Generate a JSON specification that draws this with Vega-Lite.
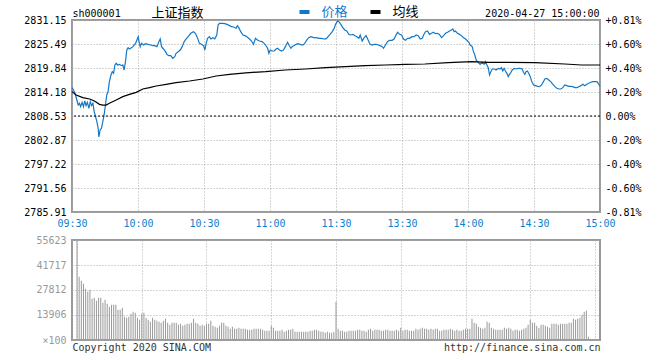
{
  "$schema": "https://vega.github.io/schema/vega-lite/v6.json",
  "background": "#ffffff",
  "padding": {"left": 22, "top": 5, "right": 0, "bottom": 0},
  "autosize": {"type": "pad"},
  "spacing": 28,
  "bounds": "flush",
  "config": {"view": {"stroke": "#999999", "strokeWidth": 2}},
  "datasets": {
    "price": [
      {"m":0,"p":2815.21,"s":"价格"},{"m":0.7,"p":2814.66,"s":"价格"},{"m":1.6,"p":2813.48,"s":"价格"},{"m":2.2,"p":2812.30,"s":"价格"},{"m":2.8,"p":2811.12,"s":"价格"},{"m":3.4,"p":2811.52,"s":"价格"},{"m":3.9,"p":2810.73,"s":"价格"},{"m":4.6,"p":2811.75,"s":"价格"},{"m":5.2,"p":2810.73,"s":"价格"},{"m":5.8,"p":2812.07,"s":"价格"},{"m":6.4,"p":2810.97,"s":"价格"},{"m":7.0,"p":2811.75,"s":"价格"},{"m":7.7,"p":2810.34,"s":"价格"},{"m":8.3,"p":2811.91,"s":"价格"},{"m":8.9,"p":2810.97,"s":"价格"},{"m":9.5,"p":2811.52,"s":"价格"},{"m":10.1,"p":2809.55,"s":"价格"},{"m":10.7,"p":2808.37,"s":"价格"},{"m":11.3,"p":2807.20,"s":"价格"},{"m":11.9,"p":2805.63,"s":"价格"},{"m":12.2,"p":2803.60,"s":"价格"},{"m":12.8,"p":2805.24,"s":"价格"},{"m":13.4,"p":2805.63,"s":"价格"},{"m":14.0,"p":2807.20,"s":"价格"},{"m":14.6,"p":2808.77,"s":"价格"},{"m":15.2,"p":2811.12,"s":"价格"},{"m":15.8,"p":2813.48,"s":"价格"},{"m":16.4,"p":2814.27,"s":"价格"},{"m":17.0,"p":2816.62,"s":"价格"},{"m":17.7,"p":2818.19,"s":"价格"},{"m":18.3,"p":2818.98,"s":"价格"},{"m":18.9,"p":2818.59,"s":"价格"},{"m":19.5,"p":2820.55,"s":"价格"},{"m":20.1,"p":2820.94,"s":"价格"},{"m":20.7,"p":2820.55,"s":"价格"},{"m":21.6,"p":2820.71,"s":"价格"},{"m":22.5,"p":2820.39,"s":"价格"},{"m":23.1,"p":2820.55,"s":"价格"},{"m":23.7,"p":2819.37,"s":"价格"},{"m":24.3,"p":2821.34,"s":"价格"},{"m":24.9,"p":2824.08,"s":"价格"},{"m":25.5,"p":2824.63,"s":"价格"},{"m":26.1,"p":2824.32,"s":"价格"},{"m":27.0,"p":2824.63,"s":"价格"},{"m":27.7,"p":2824.87,"s":"价格"},{"m":28.3,"p":2825.26,"s":"价格"},{"m":28.9,"p":2825.65,"s":"价格"},{"m":29.5,"p":2826.44,"s":"价格"},{"m":30.1,"p":2827.22,"s":"价格"},{"m":30.4,"p":2826.20,"s":"价格"},{"m":31.0,"p":2824.87,"s":"价格"},{"m":31.6,"p":2825.65,"s":"价格"},{"m":32.5,"p":2825.26,"s":"价格"},{"m":33.4,"p":2825.58,"s":"价格"},{"m":34.6,"p":2825.42,"s":"价格"},{"m":35.8,"p":2825.26,"s":"价格"},{"m":36.7,"p":2825.10,"s":"价格"},{"m":37.7,"p":2825.10,"s":"价格"},{"m":38.6,"p":2824.87,"s":"价格"},{"m":39.5,"p":2826.05,"s":"价格"},{"m":40.1,"p":2826.68,"s":"价格"},{"m":40.7,"p":2824.87,"s":"价格"},{"m":41.6,"p":2824.32,"s":"价格"},{"m":42.5,"p":2823.69,"s":"价格"},{"m":43.1,"p":2823.06,"s":"价格"},{"m":44.0,"p":2822.75,"s":"价格"},{"m":44.9,"p":2822.75,"s":"价格"},{"m":45.8,"p":2822.12,"s":"价格"},{"m":46.7,"p":2822.51,"s":"价格"},{"m":47.3,"p":2823.30,"s":"价格"},{"m":48.3,"p":2823.69,"s":"价格"},{"m":49.2,"p":2824.08,"s":"价格"},{"m":50.1,"p":2824.87,"s":"价格"},{"m":51.0,"p":2826.05,"s":"价格"},{"m":51.9,"p":2826.68,"s":"价格"},{"m":52.8,"p":2827.22,"s":"价格"},{"m":54.0,"p":2828.01,"s":"价格"},{"m":55.2,"p":2828.40,"s":"价格"},{"m":56.1,"p":2828.01,"s":"价格"},{"m":57.0,"p":2826.99,"s":"价格"},{"m":57.9,"p":2825.65,"s":"价格"},{"m":58.9,"p":2825.42,"s":"价格"},{"m":59.8,"p":2825.10,"s":"价格"},{"m":60.4,"p":2824.08,"s":"价格"},{"m":61.0,"p":2825.65,"s":"价格"},{"m":61.6,"p":2826.83,"s":"价格"},{"m":62.5,"p":2827.22,"s":"价格"},{"m":63.1,"p":2826.68,"s":"价格"},{"m":64.0,"p":2826.99,"s":"价格"},{"m":64.9,"p":2826.68,"s":"价格"},{"m":65.8,"p":2827.62,"s":"价格"},{"m":66.4,"p":2829.97,"s":"价格"},{"m":67.0,"p":2830.37,"s":"价格"},{"m":68.3,"p":2830.37,"s":"价格"},{"m":69.5,"p":2830.29,"s":"价格"},{"m":70.4,"p":2830.13,"s":"价格"},{"m":71.6,"p":2829.82,"s":"价格"},{"m":72.5,"p":2829.58,"s":"价格"},{"m":73.4,"p":2829.50,"s":"价格"},{"m":74.6,"p":2829.19,"s":"价格"},{"m":75.2,"p":2829.82,"s":"价格"},{"m":75.8,"p":2829.35,"s":"价格"},{"m":76.7,"p":2828.40,"s":"价格"},{"m":77.7,"p":2827.62,"s":"价格"},{"m":78.6,"p":2827.46,"s":"价格"},{"m":79.5,"p":2827.22,"s":"价格"},
      {"m":80.7,"p":2826.68,"s":"价格"},{"m":81.6,"p":2826.20,"s":"价格"},{"m":82.5,"p":2825.42,"s":"价格"},{"m":83.4,"p":2826.83,"s":"价格"},{"m":84.3,"p":2826.44,"s":"价格"},{"m":85.2,"p":2826.20,"s":"价格"},{"m":86.4,"p":2826.05,"s":"价格"},{"m":87.3,"p":2825.65,"s":"价格"},{"m":88.0,"p":2825.26,"s":"价格"},{"m":88.9,"p":2824.48,"s":"价格"},{"m":89.5,"p":2823.30,"s":"价格"},{"m":90.1,"p":2824.08,"s":"价格"},{"m":91.0,"p":2823.85,"s":"价格"},{"m":91.9,"p":2823.85,"s":"价格"},{"m":92.8,"p":2824.32,"s":"价格"},{"m":93.4,"p":2824.48,"s":"价格"},{"m":94.3,"p":2824.08,"s":"价格"},{"m":95.2,"p":2823.85,"s":"价格"},{"m":96.1,"p":2824.08,"s":"价格"},{"m":97.0,"p":2824.87,"s":"价格"},{"m":98.0,"p":2825.89,"s":"价格"},{"m":98.6,"p":2825.26,"s":"价格"},{"m":99.5,"p":2824.48,"s":"价格"},{"m":100.1,"p":2824.87,"s":"价格"},{"m":101.3,"p":2825.26,"s":"价格"},{"m":102.5,"p":2825.58,"s":"价格"},{"m":103.7,"p":2825.42,"s":"价格"},{"m":104.9,"p":2825.26,"s":"价格"},{"m":105.8,"p":2825.65,"s":"价格"},{"m":106.7,"p":2826.44,"s":"价格"},{"m":107.6,"p":2826.99,"s":"价格"},{"m":108.6,"p":2827.22,"s":"价格"},{"m":109.8,"p":2826.99,"s":"价格"},{"m":111.0,"p":2826.99,"s":"价格"},{"m":112.2,"p":2826.83,"s":"价格"},{"m":113.4,"p":2826.83,"s":"价格"},{"m":114.6,"p":2826.68,"s":"价格"},{"m":115.5,"p":2826.68,"s":"价格"},{"m":116.4,"p":2827.22,"s":"价格"},{"m":117.3,"p":2827.77,"s":"价格"},{"m":118.3,"p":2828.40,"s":"价格"},{"m":119.2,"p":2829.19,"s":"价格"},{"m":119.8,"p":2830.13,"s":"价格"},{"m":120.7,"p":2830.92,"s":"价格"},{"m":121.3,"p":2830.76,"s":"价格"},{"m":122.2,"p":2830.13,"s":"价格"},{"m":123.1,"p":2829.35,"s":"价格"},{"m":124.0,"p":2828.80,"s":"价格"},{"m":124.9,"p":2828.56,"s":"价格"},{"m":125.8,"p":2827.77,"s":"价格"},{"m":126.7,"p":2827.62,"s":"价格"},{"m":127.7,"p":2827.77,"s":"价格"},{"m":128.6,"p":2827.46,"s":"价格"},{"m":129.5,"p":2827.22,"s":"价格"},{"m":130.4,"p":2826.83,"s":"价格"},{"m":131.0,"p":2827.62,"s":"价格"},{"m":131.9,"p":2826.20,"s":"价格"},{"m":132.8,"p":2826.99,"s":"价格"},{"m":133.7,"p":2827.46,"s":"价格"},{"m":134.6,"p":2826.44,"s":"价格"},{"m":135.5,"p":2825.42,"s":"价格"},{"m":136.4,"p":2825.26,"s":"价格"},{"m":137.3,"p":2825.42,"s":"价格"},{"m":138.3,"p":2825.42,"s":"价格"},{"m":139.2,"p":2825.26,"s":"价格"},{"m":140.1,"p":2825.10,"s":"价格"},{"m":141.0,"p":2824.87,"s":"价格"},{"m":141.6,"p":2824.48,"s":"价格"},{"m":142.5,"p":2825.26,"s":"价格"},{"m":143.4,"p":2826.05,"s":"价格"},{"m":144.3,"p":2826.36,"s":"价格"},{"m":145.5,"p":2826.36,"s":"价格"},{"m":146.4,"p":2826.68,"s":"价格"},{"m":147.3,"p":2827.62,"s":"价格"},{"m":148.0,"p":2828.25,"s":"价格"},{"m":148.9,"p":2827.77,"s":"价格"},{"m":149.8,"p":2827.62,"s":"价格"},{"m":150.7,"p":2826.68,"s":"价格"},{"m":151.6,"p":2826.36,"s":"价格"},{"m":152.5,"p":2826.83,"s":"价格"},{"m":153.4,"p":2826.83,"s":"价格"},{"m":154.6,"p":2827.22,"s":"价格"},{"m":155.5,"p":2827.22,"s":"价格"},{"m":156.4,"p":2827.62,"s":"价格"},{"m":157.4,"p":2827.46,"s":"价格"},{"m":158.3,"p":2826.68,"s":"价格"},{"m":159.2,"p":2826.83,"s":"价格"},{"m":160.0,"p":2827.80,"s":"价格"},
      {"m":160.7,"p":2828.40,"s":"价格"},{"m":161.6,"p":2828.56,"s":"价格"},{"m":162.5,"p":2827.77,"s":"价格"},{"m":163.4,"p":2828.01,"s":"价格"},{"m":164.3,"p":2828.25,"s":"价格"},{"m":165.2,"p":2827.93,"s":"价格"},{"m":166.1,"p":2828.01,"s":"价格"},{"m":167.0,"p":2827.77,"s":"价格"},{"m":168.0,"p":2826.99,"s":"价格"},{"m":168.9,"p":2827.46,"s":"价格"},{"m":169.8,"p":2828.01,"s":"价格"},{"m":170.7,"p":2828.25,"s":"价格"},{"m":171.6,"p":2828.56,"s":"价格"},{"m":172.5,"p":2828.80,"s":"价格"},{"m":173.1,"p":2829.03,"s":"价格"},{"m":173.7,"p":2828.40,"s":"价格"},{"m":174.3,"p":2828.56,"s":"价格"},{"m":175.2,"p":2828.01,"s":"价格"},{"m":176.1,"p":2827.77,"s":"价格"},{"m":177.0,"p":2827.46,"s":"价格"},{"m":178.0,"p":2826.99,"s":"价格"},{"m":178.9,"p":2826.68,"s":"价格"},{"m":179.8,"p":2826.20,"s":"价格"},{"m":180.4,"p":2825.89,"s":"价格"},{"m":181.0,"p":2825.26,"s":"价格"},{"m":181.9,"p":2824.87,"s":"价格"},{"m":182.5,"p":2823.69,"s":"价格"},{"m":183.1,"p":2822.90,"s":"价格"},{"m":183.7,"p":2821.73,"s":"价格"},{"m":184.6,"p":2821.18,"s":"价格"},{"m":185.5,"p":2820.71,"s":"价格"},{"m":186.4,"p":2821.18,"s":"价格"},{"m":187.3,"p":2820.71,"s":"价格"},{"m":187.9,"p":2821.34,"s":"价格"},{"m":188.6,"p":2820.55,"s":"价格"},{"m":189.2,"p":2819.92,"s":"价格"},{"m":189.8,"p":2818.19,"s":"价格"},{"m":190.4,"p":2818.98,"s":"价格"},{"m":191.0,"p":2819.61,"s":"价格"},{"m":191.9,"p":2819.61,"s":"价格"},{"m":192.8,"p":2819.37,"s":"价格"},{"m":193.7,"p":2819.76,"s":"价格"},{"m":194.6,"p":2819.61,"s":"价格"},{"m":195.2,"p":2819.92,"s":"价格"},{"m":195.8,"p":2819.14,"s":"价格"},{"m":196.4,"p":2819.76,"s":"价格"},{"m":197.0,"p":2819.14,"s":"价格"},{"m":197.7,"p":2818.59,"s":"价格"},{"m":198.3,"p":2817.80,"s":"价格"},{"m":198.9,"p":2818.35,"s":"价格"},{"m":199.5,"p":2818.82,"s":"价格"},{"m":200.1,"p":2819.37,"s":"价格"},{"m":201.0,"p":2819.76,"s":"价格"},{"m":201.9,"p":2819.61,"s":"价格"},{"m":202.8,"p":2819.76,"s":"价格"},{"m":203.7,"p":2819.76,"s":"价格"},{"m":204.6,"p":2819.61,"s":"价格"},{"m":205.2,"p":2818.82,"s":"价格"},{"m":205.8,"p":2818.35,"s":"价格"},{"m":206.4,"p":2818.98,"s":"价格"},{"m":207.0,"p":2819.14,"s":"价格"},{"m":207.6,"p":2818.59,"s":"价格"},{"m":208.3,"p":2817.80,"s":"价格"},{"m":208.9,"p":2816.78,"s":"价格"},{"m":209.8,"p":2815.84,"s":"价格"},{"m":210.7,"p":2815.68,"s":"价格"},{"m":211.6,"p":2815.52,"s":"价格"},{"m":212.5,"p":2815.44,"s":"价格"},{"m":213.4,"p":2815.84,"s":"价格"},{"m":214.3,"p":2816.62,"s":"价格"},{"m":214.9,"p":2817.25,"s":"价格"},{"m":215.8,"p":2817.41,"s":"价格"},{"m":216.7,"p":2817.02,"s":"价格"},{"m":217.6,"p":2816.62,"s":"价格"},{"m":218.6,"p":2816.00,"s":"价格"},{"m":219.5,"p":2815.44,"s":"价格"},{"m":220.4,"p":2815.05,"s":"价格"},{"m":221.3,"p":2814.89,"s":"价格"},{"m":222.2,"p":2814.89,"s":"价格"},{"m":223.1,"p":2815.21,"s":"价格"},{"m":224.0,"p":2815.84,"s":"价格"},{"m":224.9,"p":2815.68,"s":"价格"},{"m":225.8,"p":2815.52,"s":"价格"},{"m":226.7,"p":2815.52,"s":"价格"},{"m":227.6,"p":2815.44,"s":"价格"},{"m":228.6,"p":2815.21,"s":"价格"},{"m":229.5,"p":2815.21,"s":"价格"},{"m":230.4,"p":2815.44,"s":"价格"},{"m":231.3,"p":2815.68,"s":"价格"},{"m":232.2,"p":2816.00,"s":"价格"},{"m":233.1,"p":2815.68,"s":"价格"},{"m":234.0,"p":2816.00,"s":"价格"},{"m":234.9,"p":2816.23,"s":"价格"},{"m":235.8,"p":2816.47,"s":"价格"},{"m":236.7,"p":2816.62,"s":"价格"},{"m":237.6,"p":2816.62,"s":"价格"},{"m":238.6,"p":2816.62,"s":"价格"},{"m":239.2,"p":2816.23,"s":"价格"},{"m":240,"p":2815.49,"s":"价格"},
      {"m":0,"p":2814.27,"s":"均线"},{"m":1.9,"p":2813.48,"s":"均线"},{"m":4.9,"p":2812.85,"s":"均线"},{"m":8.0,"p":2812.54,"s":"均线"},{"m":10.2,"p":2812.07,"s":"均线"},{"m":12.5,"p":2811.28,"s":"均线"},{"m":14.0,"p":2811.08,"s":"均线"},{"m":15.5,"p":2811.10,"s":"均线"},{"m":17.0,"p":2811.52,"s":"均线"},{"m":20.1,"p":2812.30,"s":"均线"},{"m":23.1,"p":2813.09,"s":"均线"},{"m":26.1,"p":2813.64,"s":"均线"},{"m":29.2,"p":2814.11,"s":"均线"},{"m":32.2,"p":2814.89,"s":"均线"},{"m":35.2,"p":2815.21,"s":"均线"},{"m":38.3,"p":2815.60,"s":"均线"},{"m":42.8,"p":2816.00,"s":"均线"},{"m":47.3,"p":2816.39,"s":"均线"},{"m":53.4,"p":2816.78,"s":"均线"},{"m":59.5,"p":2817.25,"s":"均线"},{"m":65.5,"p":2817.96,"s":"均线"},{"m":71.6,"p":2818.35,"s":"均线"},{"m":79.0,"p":2818.70,"s":"均线"},{"m":88.0,"p":2818.98,"s":"均线"},{"m":97.0,"p":2819.37,"s":"均线"},{"m":106.1,"p":2819.61,"s":"均线"},{"m":115.2,"p":2819.92,"s":"均线"},{"m":124.3,"p":2820.16,"s":"均线"},{"m":133.4,"p":2820.39,"s":"均线"},{"m":142.5,"p":2820.55,"s":"均线"},{"m":151.6,"p":2820.71,"s":"均线"},{"m":160.4,"p":2820.78,"s":"均线"},{"m":171.0,"p":2821.10,"s":"均线"},{"m":181.6,"p":2821.34,"s":"均线"},{"m":189.2,"p":2821.18,"s":"均线"},{"m":210.4,"p":2821.10,"s":"均线"},{"m":224.0,"p":2820.78,"s":"均线"},{"m":231.6,"p":2820.55,"s":"均线"},{"m":240,"p":2820.55,"s":"均线"}
    ],
    "vol": [
      {"m":0,"v":55623},
      {"m":1,"v":35226},{"m":2,"v":33000},{"m":3,"v":31333},{"m":4,"v":28552},{"m":5,"v":26883},{"m":6,"v":28000},{"m":7,"v":22990},{"m":8,"v":23546},{"m":9,"v":21877},{"m":10,"v":23546},
      {"m":11,"v":23546},{"m":12,"v":20765},{"m":13,"v":22433},{"m":14,"v":20209},{"m":15,"v":18540},{"m":16,"v":19652},{"m":17,"v":19652},{"m":18,"v":19652},{"m":19,"v":16871},{"m":20,"v":16871},
      {"m":21,"v":17984},{"m":22,"v":12978},{"m":23,"v":12422},{"m":24,"v":12978},{"m":25,"v":14647},{"m":26,"v":15759},{"m":27,"v":15203},{"m":28,"v":12422},{"m":29,"v":11309},{"m":30,"v":14647},
      {"m":31,"v":15203},{"m":32,"v":12422},{"m":33,"v":11309},{"m":34,"v":10197},{"m":35,"v":12422},{"m":36,"v":11309},{"m":37,"v":10753},{"m":38,"v":10197},{"m":39,"v":9641},{"m":40,"v":10753},
      {"m":41,"v":11866},{"m":42,"v":9641},{"m":43,"v":8528},{"m":44,"v":9641},{"m":45,"v":9641},{"m":46,"v":9641},{"m":47,"v":8528},{"m":48,"v":9085},{"m":49,"v":7972},{"m":50,"v":8528},
      {"m":51,"v":9085},{"m":52,"v":9085},{"m":53,"v":9641},{"m":54,"v":11866},{"m":55,"v":9641},{"m":56,"v":9085},{"m":57,"v":7972},{"m":58,"v":8528},{"m":59,"v":7972},{"m":60,"v":9085},
      {"m":61,"v":9085},{"m":62,"v":10753},{"m":63,"v":7972},{"m":64,"v":7416},{"m":65,"v":6860},{"m":66,"v":7972},{"m":67,"v":9641},{"m":68,"v":9641},{"m":69,"v":7972},{"m":70,"v":7416},
      {"m":71,"v":6304},{"m":72,"v":7416},{"m":73,"v":6304},{"m":74,"v":6304},{"m":75,"v":6860},{"m":76,"v":6304},{"m":77,"v":6304},{"m":78,"v":6304},{"m":79,"v":5747},{"m":80,"v":5747},
      {"m":81,"v":5747},{"m":82,"v":6304},{"m":83,"v":6304},{"m":84,"v":6304},{"m":85,"v":6304},{"m":86,"v":5747},{"m":87,"v":5191},{"m":88,"v":5191},{"m":89,"v":5191},{"m":90,"v":7972},
      {"m":91,"v":6860},{"m":92,"v":5191},{"m":93,"v":5191},{"m":94,"v":5191},{"m":95,"v":5747},{"m":96,"v":4635},{"m":97,"v":5191},{"m":98,"v":5747},{"m":99,"v":5747},{"m":100,"v":6304},
      {"m":101,"v":4635},{"m":102,"v":4635},{"m":103,"v":4635},{"m":104,"v":4635},{"m":105,"v":4635},{"m":106,"v":4635},{"m":107,"v":4635},{"m":108,"v":5191},{"m":109,"v":5191},{"m":110,"v":5747},
      {"m":111,"v":5747},{"m":112,"v":5191},{"m":113,"v":4635},{"m":114,"v":4635},{"m":115,"v":4079},{"m":116,"v":4635},{"m":117,"v":4079},{"m":118,"v":4079},{"m":119,"v":4635},{"m":120,"v":21321},
      {"m":121,"v":6304},{"m":122,"v":5191},{"m":123,"v":5191},{"m":124,"v":4635},{"m":125,"v":4635},{"m":126,"v":5191},{"m":127,"v":5191},{"m":128,"v":5191},{"m":129,"v":5191},{"m":130,"v":5747},
      {"m":131,"v":5747},{"m":132,"v":5191},{"m":133,"v":5191},{"m":134,"v":4635},{"m":135,"v":5747},{"m":136,"v":6304},{"m":137,"v":5191},{"m":138,"v":5747},{"m":139,"v":5747},{"m":140,"v":5747},
      {"m":141,"v":5191},{"m":142,"v":5191},{"m":143,"v":5747},{"m":144,"v":5747},{"m":145,"v":5191},{"m":146,"v":5191},{"m":147,"v":5191},{"m":148,"v":5747},{"m":149,"v":5191},{"m":150,"v":6860},
      {"m":151,"v":5191},{"m":152,"v":5747},{"m":153,"v":5747},{"m":154,"v":5191},{"m":155,"v":5191},{"m":156,"v":5191},{"m":157,"v":6304},{"m":158,"v":5747},{"m":159,"v":6304},{"m":160,"v":6860},
      {"m":161,"v":6304},{"m":162,"v":6304},{"m":163,"v":5747},{"m":164,"v":6304},{"m":165,"v":5747},{"m":166,"v":6304},{"m":167,"v":6304},{"m":168,"v":5191},{"m":169,"v":5191},{"m":170,"v":5747},
      {"m":171,"v":5747},{"m":172,"v":5747},{"m":173,"v":6304},{"m":174,"v":5747},{"m":175,"v":5191},{"m":176,"v":5747},{"m":177,"v":5191},{"m":178,"v":5191},{"m":179,"v":5747},{"m":180,"v":6304},
      {"m":181,"v":6304},{"m":182,"v":6304},{"m":183,"v":11866},{"m":184,"v":9641},{"m":185,"v":9085},{"m":186,"v":7416},{"m":187,"v":6860},{"m":188,"v":6304},{"m":189,"v":6860},{"m":190,"v":10197},
      {"m":191,"v":9641},{"m":192,"v":6860},{"m":193,"v":6304},{"m":194,"v":5747},{"m":195,"v":5747},{"m":196,"v":5747},{"m":197,"v":5747},{"m":198,"v":6860},{"m":199,"v":6304},{"m":200,"v":6860},
      {"m":201,"v":6304},{"m":202,"v":5191},{"m":203,"v":5747},{"m":204,"v":5747},{"m":205,"v":5191},{"m":206,"v":5747},{"m":207,"v":6304},{"m":208,"v":6860},{"m":209,"v":8528},{"m":210,"v":11309},
      {"m":211,"v":9641},{"m":212,"v":9641},{"m":213,"v":7972},{"m":214,"v":6860},{"m":215,"v":8528},{"m":216,"v":8528},{"m":217,"v":7972},{"m":218,"v":7416},{"m":219,"v":6860},{"m":220,"v":9085},
      {"m":221,"v":9085},{"m":222,"v":9085},{"m":223,"v":8528},{"m":224,"v":9085},{"m":225,"v":9085},{"m":226,"v":9085},{"m":227,"v":9085},{"m":228,"v":9641},{"m":229,"v":9641},{"m":230,"v":11866},
      {"m":231,"v":11309},{"m":232,"v":11866},{"m":233,"v":12422},{"m":234,"v":14090},{"m":235,"v":15759},{"m":236,"v":16315},{"m":237,"v":1854},{"m":238,"v":0},{"m":239,"v":0},{"m":240,"v":0}
    ]
  },
  "vconcat": [
    {
      "width": 528,
      "height": 192,
      "layer": [
        {
          "data": {"name": "price"},
          "mark": {"type": "line", "strokeWidth": 1.2},
          "encoding": {
            "x": {
              "field": "m", "type": "quantitative",
              "scale": {"domain": [0, 240], "nice": false, "zero": false},
              "axis": {
                "values": [0, 30, 60, 90, 120, 150, 180, 210, 240],
                "labelExpr": "['09:30','10:00','10:30','11:00','11:30','13:30','14:00','14:30','15:00'][round(datum.value/30)]",
                "title": null, "grid": true, "gridColor": "#aaaaaa", "gridDash": [1, 2],
                "ticks": false, "domain": false, "labelColor": "#0a7fd0",
                "labelFont": "DejaVu Sans Mono", "labelFontSize": 10, "labelPadding": 6,
                "labelFlush": false, "labelOverlap": false
              }
            },
            "y": {
              "field": "p", "type": "quantitative",
              "scale": {"domain": [2785.91, 2831.15], "nice": false, "zero": false},
              "axis": {
                "values": [2785.91, 2791.56, 2797.22, 2802.87, 2808.53, 2814.18, 2819.84, 2825.49, 2831.15],
                "format": ".2f", "grid": true, "gridColor": "#aaaaaa", "gridDash": [1, 2],
                "ticks": false, "domain": false, "labelPadding": 6,
                "labelFont": "DejaVu Sans Mono", "labelFontSize": 10, "labelOverlap": false, "labelFlush": false,
                "title": "sh000001", "titleAngle": 0, "titleX": 0, "titleY": -4, "titleAlign": "left",
                "titleBaseline": "alphabetic", "titleFont": "DejaVu Sans Mono", "titleFontSize": 10,
                "titleFontWeight": "normal", "titleColor": "#000000",
                "encode": {"labels": {"update": {"fill": {"signal": "datum.value > 2808.6 ? '#ff0000' : (datum.value < 2808.4 ? '#008000' : '#000000')"}}}}
              }
            },
            "color": {
              "field": "s", "type": "nominal",
              "scale": {"domain": ["价格", "均线"], "range": ["#1478c8", "#000000"]},
              "legend": {
                "orient": "none", "legendX": 79.5, "legendY": -15, "direction": "horizontal",
                "title": "上证指数", "titleOrient": "left", "titlePadding": 93,
                "titleFont": "Noto Sans CJK SC", "titleFontSize": 13, "titleFontWeight": "normal", "titleColor": "#000000",
                "symbolType": "stroke", "symbolSize": 100, "symbolStrokeWidth": 4,
                "labelFont": "Noto Sans CJK SC", "labelFontSize": 13, "labelOffset": 10,
                "columnPadding": 14, "padding": 0,
                "encode": {"labels": {"update": {"fill": {"signal": "datum.value == '价格' ? '#1478c8' : '#000000'"}}}}
              }
            }
          }
        },
        {
          "data": {"values": [{}]},
          "mark": {"type": "rule", "strokeDash": [2, 2], "color": "#000000", "strokeWidth": 1},
          "encoding": {
            "y": {
              "datum": 2808.53,
              "axis": {
                "orient": "right",
                "values": [2785.91, 2791.56, 2797.22, 2802.87, 2808.53, 2814.18, 2819.84, 2825.49, 2831.15],
                "labelExpr": "abs(datum.value - 2808.53) < 0.01 ? '0.00%' : ((datum.value > 2808.53 ? '+' : '-') + format(abs(datum.value / 2808.53 - 1) * 100, '.2f') + '%')",
                "grid": false, "ticks": false, "domain": false, "labelPadding": 5,
                "labelFont": "DejaVu Sans Mono", "labelFontSize": 10, "labelOverlap": false, "labelFlush": false,
                "title": "2020-04-27 15:00:00", "titleAngle": 0, "titleX": -1, "titleY": -4, "titleAlign": "right",
                "titleBaseline": "alphabetic", "titleFont": "DejaVu Sans Mono", "titleFontSize": 10,
                "titleFontWeight": "normal", "titleColor": "#000000",
                "encode": {"labels": {"update": {"fill": {"signal": "datum.value > 2808.6 ? '#ff0000' : (datum.value < 2808.4 ? '#008000' : '#000000')"}}}}
              }
            }
          }
        }
      ],
      "resolve": {"axis": {"y": "independent"}}
    },
    {
      "width": 528,
      "height": 100,
      "data": {"name": "vol"},
      "mark": {"type": "bar", "width": 1, "color": "#999999"},
      "encoding": {
        "x": {
          "field": "m", "type": "quantitative",
          "scale": {"domain": [0, 240], "nice": false, "zero": false},
          "axis": {
            "values": [0, 30, 60, 90, 120, 150, 180, 210, 240],
            "grid": true, "gridColor": "#aaaaaa", "gridDash": [1, 2],
            "labels": false, "ticks": false, "domain": false,
            "title": "http://finance.sina.com.cn", "titleX": 528, "titleY": 10, "titleAlign": "right",
            "titleBaseline": "alphabetic", "titleFont": "DejaVu Sans Mono", "titleFontSize": 10,
            "titleFontWeight": "normal", "titleColor": "#333333"
          }
        },
        "y": {
          "field": "v", "type": "quantitative",
          "scale": {"domain": [0, 55623], "nice": false, "zero": true},
          "axis": {
            "values": [0, 13906, 27812, 41717, 55623],
            "format": "d",
            "labelExpr": "datum.value == 0 ? '×100' : datum.label",
            "grid": true, "gridColor": "#aaaaaa", "gridDash": [1, 2],
            "ticks": false, "domain": false, "labelPadding": 6,
            "labelFont": "DejaVu Sans Mono", "labelFontSize": 10, "labelColor": "#999999",
            "labelOverlap": false, "labelFlush": false,
            "title": "Copyright 2020 SINA.COM", "titleAngle": 0, "titleX": 0, "titleY": 110, "titleAlign": "left",
            "titleBaseline": "alphabetic", "titleFont": "DejaVu Sans Mono", "titleFontSize": 10,
            "titleFontWeight": "normal", "titleColor": "#333333"
          }
        }
      }
    }
  ]
}
